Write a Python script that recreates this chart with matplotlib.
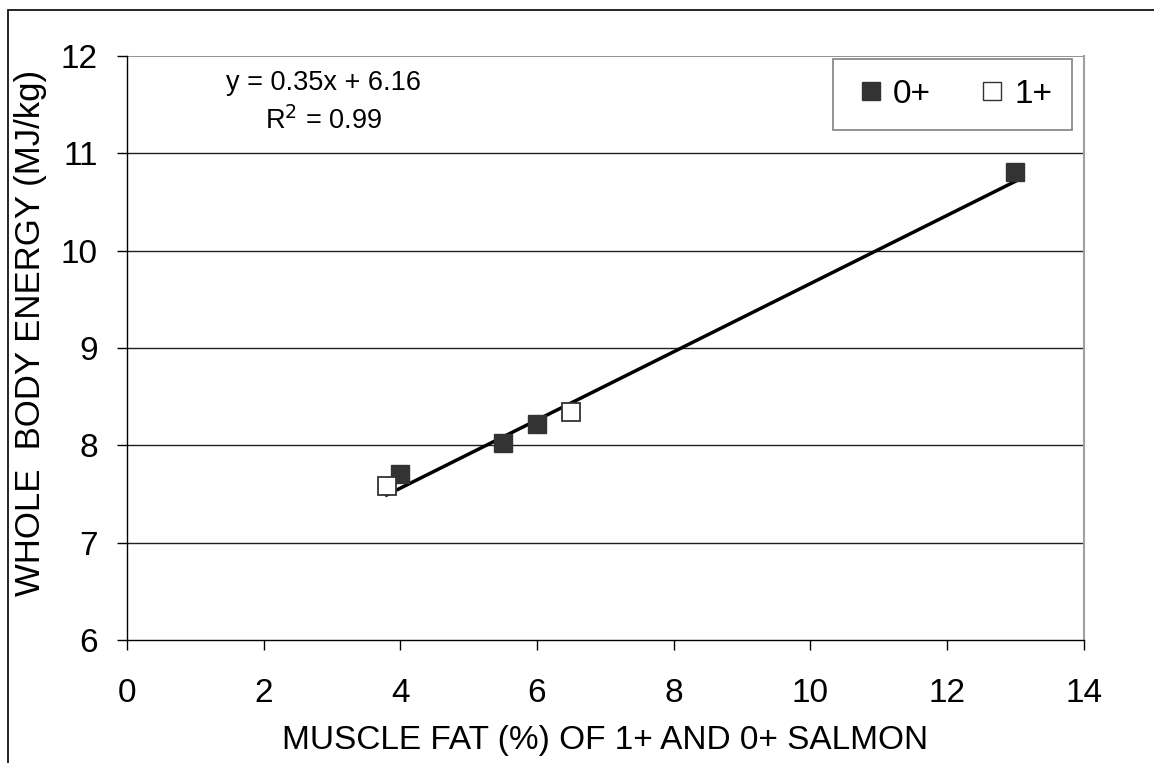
import numpy as np
import matplotlib.pyplot as plt
from matplotlib.lines import Line2D
from matplotlib.patches import Rectangle

plt.rcParams['font.family'] = ['Liberation Sans', 'DejaVu Sans']

# --------------------------------
# Data
# --------------------------------
fat_0 = [4.0, 5.5, 6.0, 13.0]
energy_0 = [7.71, 8.02, 8.22, 10.81]
fat_1 = [3.8, 6.5]
energy_1 = [7.58, 8.34]

slope, intercept = 0.35, 6.16
fit_x = [3.8, 13.0]

x_ticks = [0, 2, 4, 6, 8, 10, 12, 14]
y_ticks = [6, 7, 8, 9, 10, 11, 12]

# --------------------------------
# Plot
# --------------------------------
fig = plt.figure(figsize=(11.54, 7.63), dpi=100)
ax = fig.add_axes([0.110, 0.161, 0.829, 0.766])

# outer frame (left and top only visible)
fig.patches.append(Rectangle((8 / 1154, -0.1), 1.2, 1.1 - 10 / 763,
                             transform=fig.transFigure, fill=False,
                             edgecolor='black', linewidth=1.2))

ax.set_xlim(0, 14)
ax.set_ylim(6, 12)
ax.set_xticks(x_ticks)
ax.set_yticks(y_ticks)
ax.tick_params(axis='both', labelsize=24, direction='out', length=7,
               width=1, colors='black')
ax.tick_params(axis='x', pad=20)
ax.tick_params(axis='y', pad=14)

for y in y_ticks[1:-1]:
    ax.axhline(y, color='#202020', linewidth=1, zorder=1)
ax.axhline(12, color='#808080', linewidth=1.2, zorder=1)

ax.spines['top'].set_visible(False)
ax.spines['right'].set_color('#a0a0a0')
ax.spines['right'].set_linewidth(1.5)
ax.spines['left'].set_linewidth(1)
ax.spines['bottom'].set_linewidth(1)

fx = np.array(fit_x)
ax.plot(fx, slope * fx + intercept, color='black', linewidth=2.5, zorder=3)

ax.plot(fat_0, energy_0, 's', markersize=12.5, markerfacecolor='#333333',
        markeredgecolor='#333333', zorder=4)
ax.plot(fat_1, energy_1, 's', markersize=12.5, markerfacecolor='white',
        markeredgecolor='#333333', markeredgewidth=1.3, zorder=4)

ax.text(2.88, 11.72, "y = 0.35x + 6.16", fontsize=19.5, ha='center', va='center')
ax.text(2.88, 11.33, "R$^2$ = 0.99", fontsize=19.5, ha='center', va='center')

ax.set_xlabel("MUSCLE FAT (%) OF 1+ AND 0+ SALMON", fontsize=24, labelpad=12)
ax.set_ylabel("WHOLE  BODY ENERGY (MJ/kg)", fontsize=25)
ax.yaxis.set_label_coords(-0.084, 0.525)

handles = [
    Line2D([], [], linestyle='none', marker='s', markersize=12.5,
           markerfacecolor='#333333', markeredgecolor='#333333'),
    Line2D([], [], linestyle='none', marker='s', markersize=12.5,
           markerfacecolor='white', markeredgecolor='#333333'),
]
leg = ax.legend(handles, ['0+', '1+'], ncol=2, fontsize=24, loc='upper right',
                bbox_to_anchor=(0.988, 0.995), frameon=True, fancybox=False,
                borderpad=0.6, handletextpad=0.1, columnspacing=1.3,
                handlelength=1.1, borderaxespad=0)
leg.get_frame().set_edgecolor('#606060')
leg.get_frame().set_linewidth(1.2)

fig.savefig("out.png", dpi=100)
